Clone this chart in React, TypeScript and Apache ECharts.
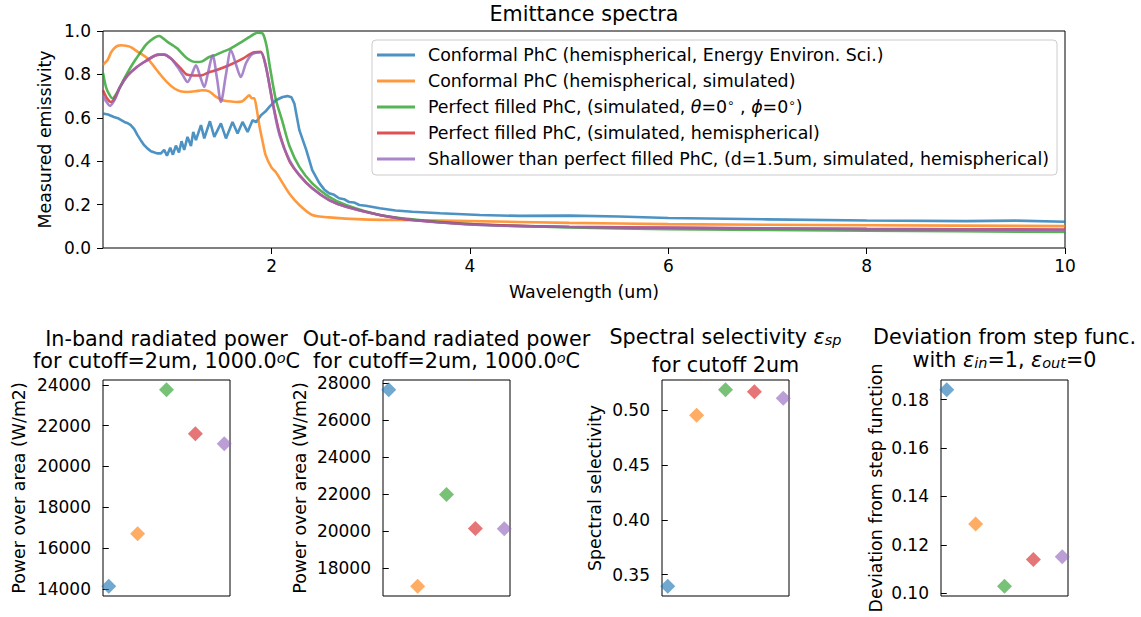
import React, { useEffect, useRef } from "react";
import * as echarts from "echarts";

// ---- spectra: [wavelength (um), emissivity] ----
const conformalMeasured = [
  [0.30, 0.620], [0.35, 0.615], [0.41, 0.604], [0.45, 0.598], [0.48, 0.590], [0.515, 0.581], [0.55, 0.575],
  [0.58, 0.566], [0.615, 0.548], [0.648, 0.520], [0.68, 0.497], [0.715, 0.474], [0.75, 0.458], [0.783, 0.446],
  [0.82, 0.440], [0.85, 0.436], [0.884, 0.436], [0.917, 0.452], [0.945, 0.425], [0.978, 0.462], [1.005, 0.430],
  [1.035, 0.472], [1.066, 0.440], [1.092, 0.492], [1.119, 0.452], [1.152, 0.512], [1.187, 0.470], [1.21, 0.535],
  [1.237, 0.497], [1.288, 0.566], [1.321, 0.505], [1.378, 0.584], [1.422, 0.512], [1.489, 0.574], [1.54, 0.505],
  [1.606, 0.581], [1.657, 0.528], [1.707, 0.581], [1.758, 0.535], [1.808, 0.589], [1.843, 0.580], [1.893, 0.612],
  [1.94, 0.630], [1.977, 0.650], [2.044, 0.681], [2.111, 0.696], [2.16, 0.700], [2.20, 0.695], [2.23, 0.665],
  [2.28, 0.543], [2.35, 0.451], [2.41, 0.359], [2.48, 0.300], [2.53, 0.270], [2.58, 0.252], [2.63, 0.245],
  [2.68, 0.229], [2.73, 0.225], [2.78, 0.212], [2.83, 0.210], [2.885, 0.198], [2.95, 0.195], [3.09, 0.183],
  [3.25, 0.173], [3.42, 0.167], [3.7, 0.160], [4.1, 0.152], [4.5, 0.148], [5.0, 0.149], [5.5, 0.145],
  [6.0, 0.138], [7.0, 0.132], [8.0, 0.127], [9.0, 0.124], [9.5, 0.126], [10.0, 0.121],
];
const conformalSimulated = [
  [0.30, 0.845], [0.345, 0.865], [0.38, 0.900], [0.41, 0.919], [0.45, 0.932], [0.48, 0.934], [0.53, 0.932],
  [0.58, 0.926], [0.65, 0.904], [0.70, 0.890], [0.75, 0.873], [0.80, 0.845], [0.884, 0.796], [0.95, 0.762],
  [1.02, 0.735], [1.08, 0.722], [1.15, 0.719], [1.23, 0.722], [1.30, 0.727], [1.37, 0.722], [1.43, 0.700],
  [1.506, 0.681], [1.57, 0.676], [1.64, 0.673], [1.70, 0.675], [1.74, 0.690], [1.775, 0.704], [1.80, 0.690],
  [1.825, 0.690], [1.85, 0.640], [1.876, 0.566], [1.91, 0.490], [1.94, 0.428], [2.0, 0.370], [2.04, 0.351],
  [2.11, 0.300], [2.18, 0.250], [2.28, 0.198], [2.41, 0.152], [2.58, 0.141], [2.92, 0.132], [3.42, 0.128],
  [4.0, 0.124], [5.0, 0.116], [6.0, 0.110], [8.0, 0.105], [10.0, 0.101],
];
const filledNormal = [
  [0.30, 0.807], [0.33, 0.742], [0.36, 0.710], [0.395, 0.689], [0.42, 0.700], [0.446, 0.720], [0.48, 0.750],
  [0.514, 0.781], [0.55, 0.810], [0.58, 0.834], [0.63, 0.870], [0.682, 0.904], [0.73, 0.935], [0.783, 0.957],
  [0.83, 0.972], [0.867, 0.977], [0.91, 0.965], [0.95, 0.950], [1.00, 0.935], [1.05, 0.919], [1.10, 0.895],
  [1.15, 0.873], [1.20, 0.860], [1.25, 0.857], [1.30, 0.860], [1.37, 0.880], [1.44, 0.890], [1.506, 0.904],
  [1.57, 0.915], [1.64, 0.934], [1.70, 0.950], [1.775, 0.972], [1.82, 0.985], [1.86, 0.992], [1.91, 0.988],
  [1.95, 0.930], [1.98, 0.842], [2.04, 0.689], [2.11, 0.581], [2.18, 0.470], [2.28, 0.374], [2.41, 0.298],
  [2.58, 0.236], [2.75, 0.198], [3.09, 0.152], [3.42, 0.132], [4.0, 0.110], [5.0, 0.095], [6.0, 0.087],
  [8.0, 0.080], [10.0, 0.074],
];
const filledHemi = [
  [0.30, 0.727], [0.34, 0.690], [0.38, 0.673], [0.42, 0.690], [0.47, 0.740], [0.55, 0.796], [0.63, 0.830],
  [0.715, 0.857], [0.816, 0.885], [0.87, 0.891], [0.917, 0.891], [0.985, 0.873], [1.04, 0.848], [1.086, 0.827],
  [1.14, 0.800], [1.187, 0.796], [1.24, 0.795], [1.30, 0.796], [1.37, 0.810], [1.44, 0.819], [1.57, 0.842],
  [1.71, 0.873], [1.81, 0.900], [1.89, 0.904], [1.94, 0.842], [2.01, 0.673], [2.08, 0.530], [2.18, 0.400],
  [2.28, 0.336], [2.41, 0.275], [2.58, 0.221], [2.75, 0.190], [3.09, 0.152], [3.42, 0.129], [4.1, 0.108],
  [5.0, 0.098], [6.0, 0.094], [8.0, 0.088], [10.0, 0.085],
];
const shallowHemi = [
  [0.30, 0.700], [0.34, 0.670], [0.37, 0.655], [0.42, 0.685], [0.47, 0.740], [0.55, 0.796], [0.63, 0.830],
  [0.715, 0.857], [0.816, 0.885], [0.87, 0.891], [0.917, 0.891], [0.985, 0.873], [1.05, 0.835], [1.10, 0.800],
  [1.152, 0.765], [1.195, 0.800], [1.237, 0.842], [1.28, 0.790], [1.321, 0.742], [1.36, 0.810], [1.405, 0.888],
  [1.45, 0.780], [1.489, 0.673], [1.54, 0.800], [1.59, 0.911], [1.645, 0.840], [1.69, 0.788], [1.74, 0.850],
  [1.79, 0.888], [1.84, 0.900], [1.89, 0.902], [1.94, 0.840], [2.01, 0.670], [2.08, 0.520], [2.18, 0.405],
  [2.28, 0.336], [2.41, 0.275], [2.58, 0.221], [2.75, 0.190], [3.09, 0.152], [3.42, 0.129], [4.1, 0.106],
  [5.0, 0.097], [6.0, 0.093], [8.0, 0.087], [10.0, 0.083],
];

const seriesNames = [
  "Conformal PhC (hemispherical, Energy Environ. Sci.)",
  "Conformal PhC (hemispherical, simulated)",
  "Perfect filled PhC, (simulated, θ=0°, ϕ=0°)",
  "Perfect filled PhC, (simulated, hemispherical)",
  "Shallower than perfect filled PhC, (d=1.5um, simulated, hemispherical)",
];

// ---- summary metrics (one value per structure, same order as series) ----
const inBandPower = [14130, 16700, 23760, 21610, 21120];
const outBandPower = [27640, 17030, 21980, 20140, 20130];
const spectralSelectivity = [0.3394, 0.4955, 0.5188, 0.517, 0.5112];
const stepDeviation = [0.184, 0.1286, 0.103, 0.114, 0.1151];

// ---- tick labels ----
const wavelengthTicks = [2, 4, 6, 8, 10];
const inBandTicks = [14000, 16000, 18000, 20000, 22000, 24000];
const outBandTicks = [18000, 20000, 22000, 24000, 26000, 28000];
const selectivityTicks = [0.35, 0.4, 0.45, 0.5];
const deviationTicks = [0.1, 0.12, 0.14, 0.16, 0.18];

const COLORS = [
  "rgba(31,119,180,0.8)",
  "rgba(255,127,14,0.8)",
  "rgba(44,160,44,0.8)",
  "rgba(214,39,40,0.8)",
  "rgba(148,103,189,0.8)",
];
const SMOOTH = [false, 0.25, 0.25, 0.25, 0.3];
const FONT = "DejaVu Sans";

function padExtent(v: number[]) {
  const lo = Math.min(...v);
  const hi = Math.max(...v);
  const r = hi - lo;
  return [lo - 0.05 * r, hi + 0.05 * r];
}

const titleRich = {
  n: { fontSize: 20.7, fontFamily: FONT, color: "#000", lineHeight: 21 },
  i: { fontSize: 20.7, fontFamily: FONT, color: "#000", fontStyle: "italic", lineHeight: 21 },
  s: { fontSize: 14.5, fontFamily: FONT, color: "#000", fontStyle: "italic", lineHeight: 13, verticalAlign: "bottom" },
  u: { fontSize: 14.5, fontFamily: FONT, color: "#000", fontStyle: "italic", lineHeight: 13, verticalAlign: "top" },
};

// place a one-line title so that its baseline lands near `baseline`
function titleLine(text: string, cx: number, baseline: number) {
  return {
    text,
    left: cx,
    top: baseline - 6.8 - 10.5,
    textAlign: "center",
    padding: 0,
    textStyle: { fontSize: 20.7, fontFamily: FONT, color: "#000", fontWeight: "normal", lineHeight: 21, rich: titleRich },
  };
}

const panels = [
  { left: 103, values: inBandPower, ticks: inBandTicks, name: "Power over area (W/m2)", gap: 76, fmt: (v: number) => String(v) },
  { left: 383, values: outBandPower, ticks: outBandTicks, name: "Power over area (W/m2)", gap: 75, fmt: (v: number) => String(v) },
  { left: 662, values: spectralSelectivity, ticks: selectivityTicks, name: "Spectral selectivity", gap: 59, fmt: (v: number) => v.toFixed(2) },
  { left: 941, values: stepDeviation, ticks: deviationTicks, name: "Deviation from step function", gap: 57, fmt: (v: number) => v.toFixed(2) },
];

export default function App() {
  const ref = useRef<HTMLDivElement>(null);
  useEffect(() => {
    if (!ref.current) return;
    const chart = echarts.init(ref.current, undefined, { renderer: "svg" });
    const spectra = [conformalMeasured, conformalSimulated, filledNormal, filledHemi, shallowHemi];
    const tickText = { fontSize: 17, fontFamily: FONT, color: "#000" };
    const nameText = { fontSize: 17.4, fontFamily: FONT, color: "#000" };

    const grids: any[] = [
      { left: 103, top: 31, width: 962, height: 217, show: true, borderColor: "#000", borderWidth: 1, containLabel: false },
    ];
    const xAxes: any[] = [
      {
        gridIndex: 0, type: "value", min: 0.3, max: 10,
        axisLine: { show: false }, splitLine: { show: false },
        axisTick: { show: true, length: 6, customValues: wavelengthTicks, lineStyle: { color: "#000" } },
        axisLabel: { customValues: wavelengthTicks, margin: 9, ...tickText },
        name: "Wavelength (um)", nameLocation: "middle", nameGap: 35, nameTextStyle: nameText,
      },
    ];
    const yAxes: any[] = [
      {
        gridIndex: 0, type: "value", min: 0, max: 1, interval: 0.2,
        axisLine: { show: false }, splitLine: { show: false },
        axisTick: { show: true, length: 6, lineStyle: { color: "#000" } },
        axisLabel: { margin: 12, formatter: (v: number) => v.toFixed(1), ...tickText },
        name: "Measured emissivity", nameLocation: "middle", nameGap: 47, nameRotate: 90, nameTextStyle: nameText,
      },
    ];
    const series: any[] = spectra.map((d, k) => ({
      type: "line", name: seriesNames[k], data: d, xAxisIndex: 0, yAxisIndex: 0,
      showSymbol: false, symbol: "none", color: COLORS[k], smooth: SMOOTH[k],
      lineStyle: { width: 2.6, color: COLORS[k] }, clip: true,
    }));

    panels.forEach((p, i) => {
      const gi = i + 1;
      const [mn, mx] = padExtent(p.values);
      grids.push({ left: p.left, top: 380, width: 127, height: 216, show: true, borderColor: "#000", borderWidth: 1 });
      xAxes.push({
        gridIndex: gi, type: "value", min: -0.2, max: 4.2,
        axisLine: { show: false }, axisTick: { show: false }, axisLabel: { show: false }, splitLine: { show: false },
      });
      yAxes.push({
        gridIndex: gi, type: "value", min: mn, max: mx,
        axisLine: { show: false }, splitLine: { show: false },
        axisTick: { show: true, length: 6, customValues: p.ticks, lineStyle: { color: "#000" } },
        axisLabel: { customValues: p.ticks, margin: 12, formatter: p.fmt, ...tickText },
        name: p.name, nameLocation: "middle", nameGap: p.gap, nameRotate: 90, nameTextStyle: nameText,
      });
      series.push({
        type: "scatter", xAxisIndex: gi, yAxisIndex: gi, symbol: "diamond", symbolSize: 15,
        data: p.values.map((v, k) => ({ value: [k, v], itemStyle: { color: COLORS[k] } })),
      });
    });

    const legendRich = {
      n: { fontSize: 17.4, fontFamily: FONT, color: "#000", lineHeight: 20 },
      i: { fontSize: 17.4, fontFamily: FONT, color: "#000", fontStyle: "italic", lineHeight: 20 },
      u: { fontSize: 12, fontFamily: FONT, color: "#000", lineHeight: 12, verticalAlign: "top" },
    };

    chart.setOption({
      animation: false,
      title: [
        titleLine("{n|Emittance spectra}", 584, 20.7),
        titleLine("{n|In-band radiated power}", 166.5, 345.5),
        titleLine("{n|for cutoff=2um, 1000.0}{u|o}{n|C}", 166.5, 367.3),
        titleLine("{n|Out-of-band radiated power}", 446.5, 345.5),
        titleLine("{n|for cutoff=2um, 1000.0}{u|o}{n|C}", 446.5, 367.3),
        titleLine("{n|Spectral selectivity }{i|ε}{s|sp}", 725.5, 344),
        titleLine("{n|for cutoff 2um}", 725.5, 371.7),
        titleLine("{n|Deviation from step func.}", 1004.5, 343.3),
        titleLine("{n|with }{i|ε}{s|in}{n|=1, }{i|ε}{s|out}{n|=0}", 1004.5, 366.7),
      ],
      legend: {
        data: seriesNames,
        orient: "vertical",
        left: 372,
        top: 40,
        padding: [5, 8, 6, 5],
        itemWidth: 38,
        itemHeight: 3,
        itemGap: 6,
        icon: "rect",
        backgroundColor: "rgba(255,255,255,0.8)",
        borderColor: "#cccccc",
        borderWidth: 1,
        borderRadius: 4,
        selectedMode: false,
        textStyle: { fontSize: 17.4, fontFamily: FONT, color: "#000", lineHeight: 20, padding: [0, 0, 0, 8], rich: legendRich },
        formatter: (name: string) =>
          name === seriesNames[2]
            ? "{n|Perfect filled PhC, (simulated, }{i|θ}{n|=0}{u|∘}{n| , }{i|ϕ}{n|=0}{u|∘}{n|)}"
            : name,
      },
      grid: grids,
      xAxis: xAxes,
      yAxis: yAxes,
      series,
    });
    return () => chart.dispose();
  }, []);
  return <div ref={ref} style={{ position: "absolute", left: 0, top: 0, width: 1141, height: 617, background: "#fff" }} />;
}
